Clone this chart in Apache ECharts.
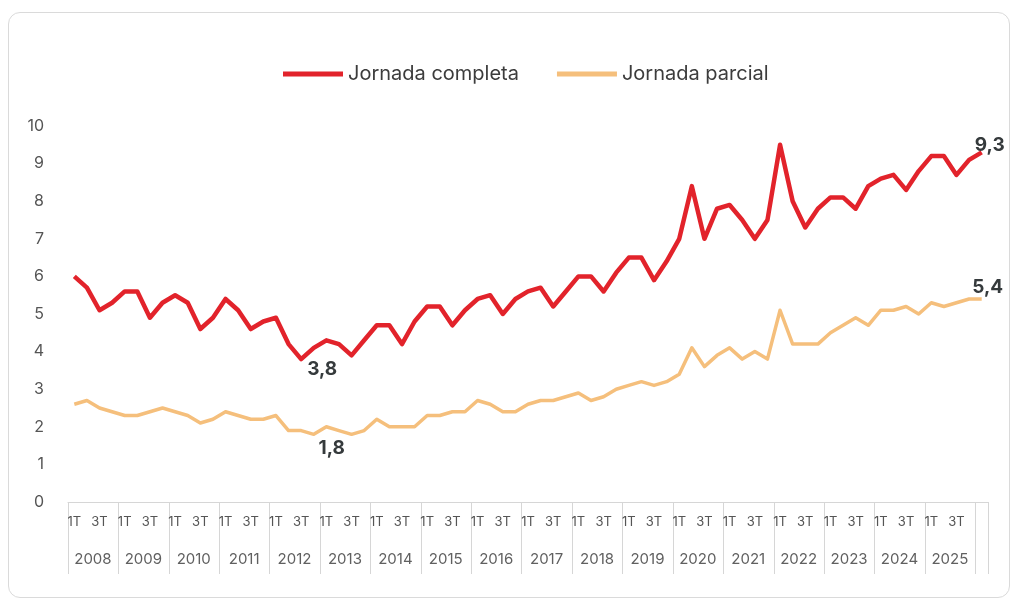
<!DOCTYPE html>
<html>
<head>
<meta charset="utf-8">
<script src="https://cdn.jsdelivr.net/npm/echarts@6/dist/echarts.min.js"></script>
<style>
  html, body { margin: 0; padding: 0; background: #ffffff; }
  #card {
    position: absolute; left: 8px; top: 12px; width: 1002px; height: 586px;
    border: 1px solid #dadada; border-radius: 12px; box-sizing: border-box;
  }
  #chart { position: absolute; left: 0; top: 0; width: 1016px; height: 609px; }
</style>
</head>
<body>
<div id="card"></div>
<div id="chart"></div>
<script>
// Years shown on the lower row of the category axis
const years = [2008, 2009, 2010, 2011, 2012, 2013, 2014, 2015, 2016,
               2017, 2018, 2019, 2020, 2021, 2022, 2023, 2024, 2025];
// Quarter names; only 1T and 3T are printed
const quarterNames = ['1T', '2T', '3T', '4T'];
const shownQuarters = ['1T', '3T'];
// First quarter of the following year closes the series
const trailingQuarter = '2026 1T';

// Full-time ("Jornada completa") quarterly values, 2008 1T onwards
const completa = [
  6.0, 5.7, 5.1, 5.3,
  5.6, 5.6, 4.9, 5.3,
  5.5, 5.3, 4.6, 4.9,
  5.4, 5.1, 4.6, 4.8,
  4.9, 4.2, 3.8, 4.1,
  4.3, 4.2, 3.9, 4.3,
  4.7, 4.7, 4.2, 4.8,
  5.2, 5.2, 4.7, 5.1,
  5.4, 5.5, 5.0, 5.4,
  5.6, 5.7, 5.2, 5.6,
  6.0, 6.0, 5.6, 6.1,
  6.5, 6.5, 5.9, 6.4,
  7.0, 8.4, 7.0, 7.8,
  7.9, 7.5, 7.0, 7.5,
  9.5, 8.0, 7.3, 7.8,
  8.1, 8.1, 7.8, 8.4,
  8.6, 8.7, 8.3, 8.8,
  9.2, 9.2, 8.7, 9.1,
  9.3
];

// Part-time ("Jornada parcial") quarterly values, 2008 1T onwards
const parcial = [
  2.6, 2.7, 2.5, 2.4,
  2.3, 2.3, 2.4, 2.5,
  2.4, 2.3, 2.1, 2.2,
  2.4, 2.3, 2.2, 2.2,
  2.3, 1.9, 1.9, 1.8,
  2.0, 1.9, 1.8, 1.9,
  2.2, 2.0, 2.0, 2.0,
  2.3, 2.3, 2.4, 2.4,
  2.7, 2.6, 2.4, 2.4,
  2.6, 2.7, 2.7, 2.8,
  2.9, 2.7, 2.8, 3.0,
  3.1, 3.2, 3.1, 3.2,
  3.4, 4.1, 3.6, 3.9,
  4.1, 3.8, 4.0, 3.8,
  5.1, 4.2, 4.2, 4.2,
  4.5, 4.7, 4.9, 4.7,
  5.1, 5.1, 5.2, 5.0,
  5.3, 5.2, 5.3, 5.4,
  5.4
];

const seriesNames = ['Jornada completa', 'Jornada parcial'];

// Category list: "2008 1T" ... "2025 4T", then the trailing quarter
const categories = [];
years.forEach(y => quarterNames.forEach(q => categories.push(y + ' ' + q)));
categories.push(trailingQuarter);

// Which points carry a value label, and where the label sits
const completaLabels = {
  18: { position: 'bottom', distance: 0, offset: [21, 1] },
  72: { position: 'top', distance: 0, offset: [8, 2] }
};
const parcialLabels = {
  19: { position: 'bottom', distance: 0, offset: [18, 4] },
  72: { position: 'top', distance: 0, offset: [6, -2] }
};

const valueLabelStyle = {
  show: true,
  fontFamily: 'Inter',
  fontSize: 19,
  fontWeight: 'bold',
  color: '#353a3c',
  formatter: p => Number(p.value).toFixed(1).replace('.', ',')
};

function withLabels(values, labelMap) {
  return values.map((v, i) => labelMap[i]
    ? { value: v, label: Object.assign({}, valueLabelStyle, labelMap[i]) }
    : v);
}

function yearOf(cat) { return +cat.split(' ')[0]; }
function quarterOf(cat) { return cat.split(' ')[1]; }

const axisGrey = '#d6d6d6';
const textGrey = '#555555';

const chart = echarts.init(document.getElementById('chart'), null, { renderer: 'canvas' });

chart.setOption({
  animation: false,
  backgroundColor: 'transparent',
  legend: {
    data: seriesNames,
    left: 278,
    top: 59,
    icon: 'rect',
    itemWidth: 60,
    itemHeight: 5,
    itemGap: 38,
    textStyle: { fontFamily: 'Inter', fontSize: 20, color: '#3c3c3c' }
  },
  grid: {
    left: 68,
    right: 28,
    top: 126,
    bottom: 107,
    containLabel: false,
    outerBoundsMode: 'none'
  },
  xAxis: [
    {
      type: 'category',
      data: categories,
      boundaryGap: true,
      axisLine: { show: true, lineStyle: { color: axisGrey, width: 1 } },
      axisTick: {
        show: true,
        length: 72,
        interval: (index) => index % 4 === 0,
        lineStyle: { color: axisGrey, width: 1 }
      },
      axisLabel: {
        interval: 0,
        margin: 14,
        fontFamily: 'Inter',
        fontSize: 13,
        color: textGrey,
        formatter: (v) => (years.includes(yearOf(v)) && shownQuarters.includes(quarterOf(v)))
          ? quarterOf(v) : ''
      },
      splitLine: { show: false }
    },
    {
      type: 'category',
      data: categories,
      position: 'bottom',
      offset: 35,
      boundaryGap: true,
      axisLine: { show: false },
      axisTick: { show: false },
      splitLine: { show: false },
      axisLabel: {
        interval: 0,
        margin: 15,
        fontFamily: 'Inter',
        fontSize: 15,
        color: '#606060',
        padding: [0, 0, 0, 12],
        formatter: (v, i) => (i % 4 === 1 && years.includes(yearOf(v))) ? String(yearOf(v)) : ''
      }
    }
  ],
  yAxis: {
    type: 'value',
    min: 0,
    max: 10,
    interval: 1,
    axisLine: { show: false },
    axisTick: { show: false },
    splitLine: { show: false },
    axisLabel: { margin: 24, fontFamily: 'Inter', fontSize: 16, color: textGrey, padding: [4, 0, 0, 0] }
  },
  series: [
    {
      name: seriesNames[0],
      type: 'line',
      xAxisIndex: 0,
      data: withLabels(completa, completaLabels),
      color: '#e2232b',
      lineStyle: { color: '#e2232b', width: 4.5, join: 'round' },
      showSymbol: true,
      symbol: 'circle',
      symbolSize: 0,
      z: 3
    },
    {
      name: seriesNames[1],
      type: 'line',
      xAxisIndex: 0,
      data: withLabels(parcial, parcialLabels),
      color: '#f5bf7c',
      lineStyle: { color: '#f5bf7c', width: 3.5, join: 'round' },
      showSymbol: true,
      symbol: 'circle',
      symbolSize: 0,
      z: 2
    }
  ]
});
</script>
</body>
</html>
